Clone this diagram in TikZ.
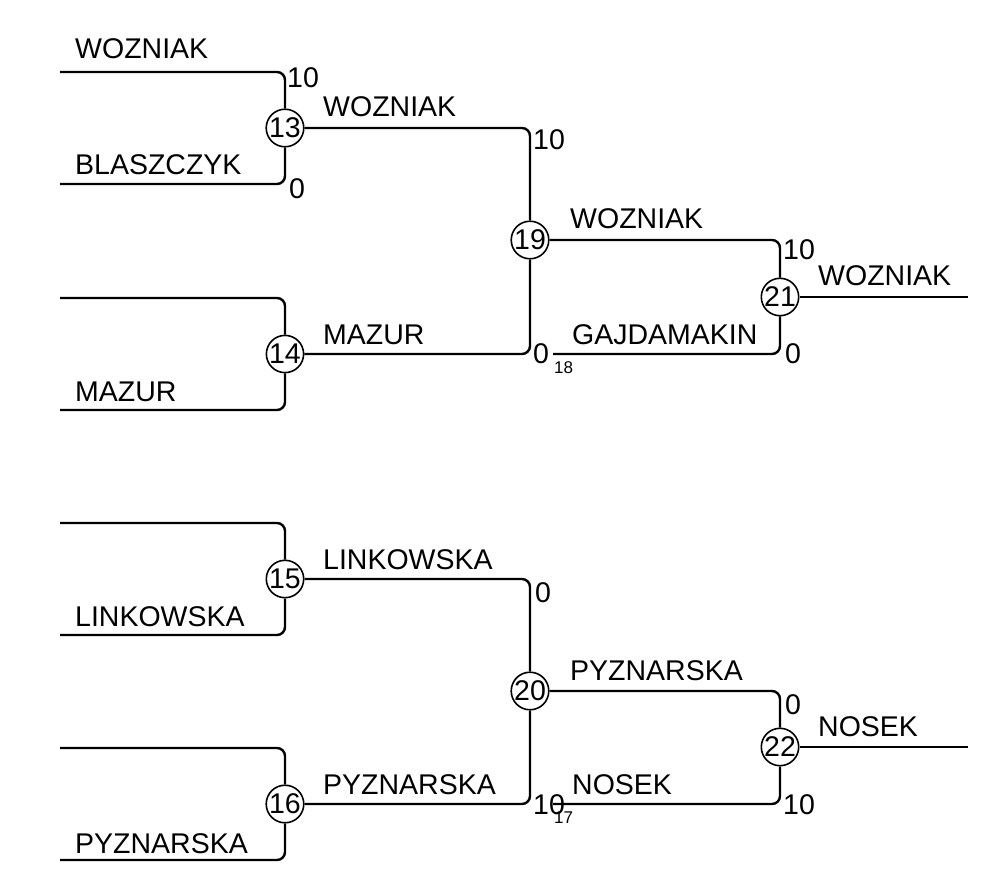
\documentclass[tikz,border=0pt]{standalone}
\usepackage{fontspec}
\setmainfont{Liberation Sans}
\usetikzlibrary{positioning}

\begin{document}
\begin{tikzpicture}[x=1pt,y=-1pt,font=\fontsize{28.5}{33}\selectfont,
  wire/.style={line width=2.4pt,rounded corners=8pt},
  nm/.style={anchor=base west,inner sep=0pt},
  sc/.style={anchor=west,inner sep=0pt}]
  \tikzset{mn/.style={circle,draw,line width=1.6pt,fill=white,minimum size=35pt,inner sep=0pt}}
  \useasboundingbox (0,0) rectangle (983,869);
  \node[mn] (m13) at (285,128) {13};
  \node[mn] (m14) at (285,354) {14};
  \node[mn] (m15) at (285,579) {15};
  \node[mn] (m16) at (285,804) {16};
  \node[mn] (m19) at (530,240) {19};
  \node[mn] (m20) at (530,691) {20};
  \node[mn] (m21) at (780,297) {21};
  \node[mn] (m22) at (780,747) {22};
  \coordinate (a13) at (60,72);  \coordinate (b13) at (60,184);
  \coordinate (a14) at (60,298); \coordinate (b14) at (60,410);
  \coordinate (a15) at (60,523); \coordinate (b15) at (60,635);
  \coordinate (a16) at (60,748); \coordinate (b16) at (60,860);
  \coordinate (l18) at (553,354); \coordinate (l17) at (553,804);
  \coordinate (w21) at (968,297); \coordinate (w22) at (968,747);
  \foreach \m in {13,14,15,16}{
    \draw[wire] (a\m) -| (m\m);
    \draw[wire] (b\m) -| (m\m);}
  \draw[wire] (m13) -| (m19);
  \draw[wire] (m14) -| (m19);
  \draw[wire] (m15) -| (m20);
  \draw[wire] (m16) -| (m20);
  \draw[wire] (m19) -| (m21);
  \draw[wire] (l18) -| (m21);
  \draw[wire] (m20) -| (m22);
  \draw[wire] (l17) -| (m22);
  \draw[wire] (m21) -- (w21);
  \draw[wire] (m22) -- (w22);
  \node[nm] (n1) at (75,59) {WOZNIAK};
  \node[nm] (n2) at (75,175) {BLASZCZYK};
  \node[nm] (n3) at (75,401) {MAZUR};
  \node[nm] (n4) at (75,626) {LINKOWSKA};
  \node[nm] (n5) at (75,853) {PYZNARSKA};
  \node[nm] (n6) at (323,117) {WOZNIAK};
  \node[nm] (n7) at (323,344) {MAZUR};
  \node[nm] (n8) at (323,569) {LINKOWSKA};
  \node[nm] (n9) at (323,794) {PYZNARSKA};
  \node[nm] (n10) at (570,229) {WOZNIAK};
  \node[nm] (n11) at (572,344) {GAJDAMAKIN};
  \node[nm] (n12) at (570,680) {PYZNARSKA};
  \node[nm] (n13) at (572,794) {NOSEK};
  \node[nm] (n14) at (818,286) {WOZNIAK};
  \node[nm] (n15) at (818,736) {NOSEK};
  \node[sc] (s1) at (287,78) {10};
  \node[sc] (s2) at (289,189) {0};
  \node[sc] (s3) at (533,140) {10};
  \node[sc] (s4) at (533,354) {0};
  \node[sc] (s5) at (783,250) {10};
  \node[sc] (s6) at (785,354) {0};
  \node[sc] (s7) at (535,593) {0};
  \node[sc] (s8) at (533,805) {10};
  \node[sc] (s9) at (785,705) {0};
  \node[sc] (s10) at (783,805) {10};
  \node[sc,font=\fontsize{17}{20}\selectfont] (t18) at (554,368) {18};
  \node[sc,font=\fontsize{17}{20}\selectfont] (t17) at (554,818) {17};
\end{tikzpicture}
\end{document}
